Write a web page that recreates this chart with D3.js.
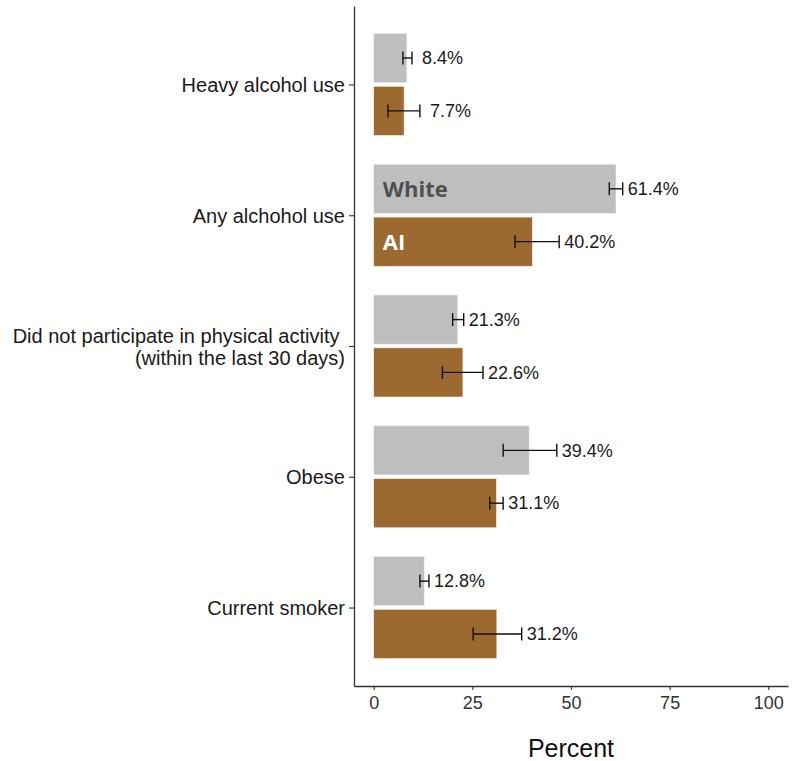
<!DOCTYPE html>
<html>
<head>
<meta charset="utf-8">
<script src="https://cdn.jsdelivr.net/npm/d3@7"></script>
<style>
  body { margin: 0; background: #fff; }
  text { font-family: "Liberation Sans", Arial, sans-serif; }
</style>
</head>
<body>
<div id="chart"></div>
<script>
// données
const categories = ["Heavy alcohol use", "Any alchohol use", "Did not participate in physical activity \n(within the last 30 days)", "Obese", "Current smoker"];
const groups = ["White", "AI"];
const whiteValues = [8.4, 61.4, 21.3, 39.4, 12.8];
const whiteLower = [7.4, 59.7, 20.0, 32.8, 11.7];
const whiteUpper = [9.7, 63.1, 22.8, 46.4, 14.0];
const aiValues = [7.7, 40.2, 22.6, 31.1, 31.2];
const aiLower = [3.6, 35.8, 17.4, 29.4, 25.2];
const aiUpper = [11.7, 47.0, 27.7, 32.8, 37.5];
const xTicks = [0, 25, 50, 75, 100];

const colors = { "White": "#bebebe", "AI": "#9c6930" };

const width = 801, height = 761;
const panel = { left: 354, right: 788, top: 6, bottom: 686 };

// table des barres
const rows = [];
categories.forEach((c, i) => {
  rows.push({ cat: c, group: "White", value: whiteValues[i], lo: whiteLower[i], hi: whiteUpper[i] });
  rows.push({ cat: c, group: "AI", value: aiValues[i], lo: aiLower[i], hi: aiUpper[i] });
});

const svg = d3.select("#chart").append("svg")
  .attr("width", width)
  .attr("height", height);

// échelles
const x = d3.scaleLinear().domain([-5, 105]).range([panel.left, panel.right]);
const y = d3.scalePoint().domain(categories).range([panel.top, panel.bottom]).padding(0.6);
const step = y.step();
const sub = d3.scaleBand().domain(groups).range([-0.39 * step, 0.39 * step]).paddingInner(0.07);

// barres
svg.append("g").selectAll("rect")
  .data(rows)
  .enter()
  .append("rect")
  .attr("x", x(0))
  .attr("y", d => y(d.cat) + sub(d.group))
  .attr("width", d => x(d.value) - x(0))
  .attr("height", sub.bandwidth())
  .attr("fill", d => colors[d.group])
  .attr("stroke", "#f4efe8")
  .attr("stroke-width", 0.6);

// barres d'erreur
const capH = 6.5;
const err = svg.append("g").attr("stroke", "#111").attr("stroke-width", 1.4).attr("fill", "none");
rows.forEach(d => {
  const cy = y(d.cat) + sub(d.group) + sub.bandwidth() / 2;
  err.append("line").attr("x1", x(d.lo)).attr("x2", x(d.hi)).attr("y1", cy).attr("y2", cy);
  err.append("line").attr("x1", x(d.lo)).attr("x2", x(d.lo)).attr("y1", cy - capH).attr("y2", cy + capH);
  err.append("line").attr("x1", x(d.hi)).attr("x2", x(d.hi)).attr("y1", cy - capH).attr("y2", cy + capH);
});

// étiquettes des valeurs
const fmt = d3.format(">4.1f");
svg.append("g").selectAll("text")
  .data(rows)
  .enter()
  .append("text")
  .attr("x", d => x(d.hi) + 5)
  .attr("y", d => y(d.cat) + sub(d.group) + sub.bandwidth() / 2)
  .attr("dy", "0.35em")
  .style("white-space", "pre")
  .attr("font-size", 18)
  .attr("fill", "#1a1a1a")
  .text(d => fmt(d.value) + "%");

// légende dans les barres de "Any alchohol use"
const legendCat = categories[1];
svg.append("g").selectAll("text")
  .data(groups)
  .enter()
  .append("text")
  .attr("x", x(0) + 9)
  .attr("y", g => y(legendCat) + sub(g) + sub.bandwidth() / 2)
  .attr("dy", "0.38em")
  .style("font-family", "'Open Sans', sans-serif")
  .attr("font-weight", "bold")
  .attr("font-size", 22)
  .attr("fill", g => g === "White" ? "#505050" : "#ffffff")
  .text(g => g);

// axe x
const xAxis = svg.append("g")
  .attr("transform", `translate(0,${panel.bottom})`)
  .call(d3.axisBottom(x).tickValues(xTicks).tickSize(4).tickSizeOuter(0).tickPadding(6));
xAxis.select(".domain").attr("stroke", "#333").attr("stroke-width", 1.3);
xAxis.selectAll(".tick line").attr("stroke", "#333").attr("stroke-width", 1.1);
xAxis.selectAll("text").attr("font-size", 18).attr("fill", "#333").style("font-family", "'Liberation Sans', Arial, sans-serif");

// axe y
const yAxis = svg.append("g")
  .attr("transform", `translate(${panel.left},0)`)
  .call(d3.axisLeft(y).tickSize(5).tickSizeOuter(0).tickPadding(4));
yAxis.select(".domain").attr("stroke", "#333").attr("stroke-width", 1.3);
yAxis.selectAll(".tick line").attr("stroke", "#333").attr("stroke-width", 1.1);
yAxis.selectAll(".tick text")
  .attr("font-size", 20)
  .attr("fill", "#1a1a1a")
  .style("font-family", "'Liberation Sans', Arial, sans-serif")
  .style("white-space", "pre")
  .each(function(d) {
    const lines = d.split("\n");
    const t = d3.select(this).text(null).attr("dy", null);
    const lh = 22;
    lines.forEach((l, i) => {
      t.append("tspan")
        .attr("x", -9)
        .attr("dy", i === 0 ? (0.35 * 20 - (lines.length - 1) * lh / 2) : lh)
        .text(l);
    });
  });

// titre axe x
svg.append("text")
  .attr("x", (panel.left + panel.right) / 2)
  .attr("y", 748)
  .attr("dy", "0.35em")
  .attr("text-anchor", "middle")
  .attr("font-size", 25)
  .attr("fill", "#111")
  .text("Percent");
</script>
</body>
</html>
